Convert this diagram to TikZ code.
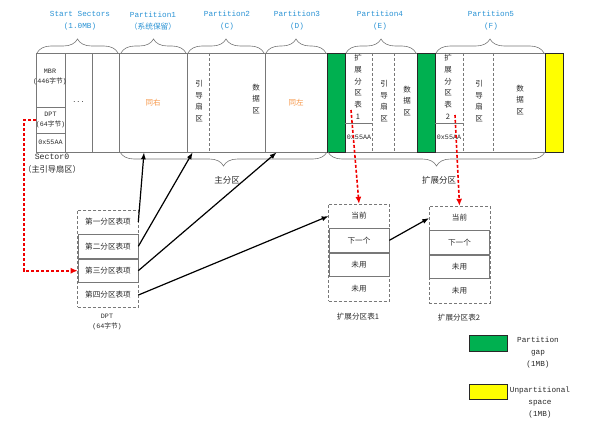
\documentclass[tikz,border=0pt]{standalone}
\usepackage{fontspec}
\setmainfont{Liberation Mono}
\newfontfamily\zh{Noto Sans CJK SC}
\usetikzlibrary{arrows.meta,positioning,calc,fit,decorations.pathreplacing}
\definecolor{ink}{RGB}{40,40,40}
\definecolor{rim}{RGB}{120,120,120}
\definecolor{sky}{RGB}{41,146,212}
\definecolor{amber}{RGB}{247,150,70}
\definecolor{gapgreen}{RGB}{0,176,80}
\definecolor{freeyellow}{RGB}{255,255,0}
\definecolor{hot}{RGB}{240,0,0}
\tikzset{
  every picture/.style={x=1pt, y=-1pt, color=ink, line width=0.6pt, font=\fontsize{7.7}{12}\selectfont},
  seg/.style={draw=rim, fill=white, inner sep=0pt},
  gap/.style={seg, draw=ink, fill=gapgreen},
  free/.style={seg, draw=ink, fill=freeyellow},
  divline/.style={draw=rim, dash pattern=on 3pt off 2pt},
  small/.style={font=\fontsize{6.7}{10}\selectfont, text=ink, inner sep=0pt, align=center},
  vtxt/.style={font=\zh\fontsize{7.5}{11.7}\selectfont, text=ink, inner sep=0pt, align=center},
  same/.style={font=\zh\fontsize{7.5}{9}\selectfont, text=amber, inner sep=0pt},
  title/.style={text=sky, inner sep=0pt, align=center},
  cell/.style={font=\zh\fontsize{7.6}{9}\selectfont, text=ink, minimum width=60pt, minimum height=23.75pt, inner sep=0pt},
  solidcell/.style={cell, draw=rim},
  tablebox/.style={draw=rim, dash pattern=on 3pt off 2pt, inner sep=0pt},
  lbl/.style={inner sep=0pt, align=center},
  topbrace/.style={decorate, decoration={brace, amplitude=14pt}, draw=rim},
  ptr/.style={-{Latex[length=7pt,width=5pt]}, line width=1.2pt, black},
  link/.style={-{Latex[length=7pt,width=6pt]}, line width=1.6pt, hot, dash pattern=on 3pt off 2pt},
}

\begin{document}
\begin{tikzpicture}
  \useasboundingbox (0,0) rectangle (593,425);
  % disk bar
  \foreach \n/\l/\r in {dots/65/92, spare/92/119, p1/119/187, p2/187/265, p3/265/327, p4/345/417, p5/435/545}
    \node[seg, fit={(\l,53) (\r,152)}] (\n) {};
  \foreach \n/\t/\b in {mbr/53/107, dpt/107/133, magic/133/152}
    \node[seg, fit={(36,\t) (65,\b)}] (\n) {};
  \node[gap, fit={(327,53) (345,152)}] (g1) {};
  \node[gap, fit={(417,53) (435,152)}] (g2) {};
  \node[free, fit={(545,53) (563,152)}] (rest) {};
  \foreach \x in {209,372,394,463,493} \draw[divline] (\x,53) -- (\x,152);
  \draw[rim] (345,123) -- (372,123);
  \draw[rim] (435,123) -- (463,123);

  % texts in the bar
  \node[small] (mbrT) at (50,77) {MBR\\(446{\zh 字节})};
  \node[small] (dptT) at (dpt) {DPT\\(64{\zh 字节})};
  \node[small] (magicT) at (magic) {0x55AA};
  \node[small] (dotsT) at (dots) {...};
  \node[same] (p1T) at (p1) {同右};
  \node[same] (p3T) at (p3) {同左};
  \node[vtxt] (p2boot) at (199,101) {引\\导\\扇\\区};
  \node[vtxt] (p2data) at (256,99) {数\\据\\区};
  \node[vtxt] (p4ebr) at (358,87) {扩\\展\\分\\区\\表\\1};
  \node[vtxt] (p4boot) at (384,101) {引\\导\\扇\\区};
  \node[vtxt] (p4data) at (407,101) {数\\据\\区};
  \node[small] (p4magic) at (359,137) {0x55AA};
  \node[vtxt] (p5ebr) at (448,87) {扩\\展\\分\\区\\表\\2};
  \node[vtxt] (p5boot) at (479,101) {引\\导\\扇\\区};
  \node[vtxt] (p5data) at (520,100) {数\\据\\区};
  \node[small] (p5magic) at (449,137) {0x55AA};

  % braces and titles
  \foreach \l/\r in {37/118, 121/186, 188/264, 266/326, 346/416, 436/544}
    \draw[topbrace] (\l,53) -- (\r,53);
  \node[title] (t0) at (80,21) {Start Sectors\\(1.0MB)};
  \node[title] (t1) at (153,21) {Partition1\\{\zh （系统保留）}};
  \node[title] (t2) at (227,21) {Partition2\\(C)};
  \node[title] (t3) at (297,21) {Partition3\\(D)};
  \node[title] (t4) at (380,21) {Partition4\\(E)};
  \node[title] (t5) at (491,21) {Partition5\\(F)};
  \draw[topbrace] (327,152) -- (120,152);
  \draw[topbrace] (545,152) -- (328,152);
  \node[lbl, font=\zh\fontsize{8.5}{10}\selectfont] (mainlbl) at (227,180) {主分区};
  \node[lbl, font=\zh\fontsize{8.5}{10}\selectfont] (extlbl) at (439,180) {扩展分区};
  \node[lbl, font=\fontsize{8.2}{13}\selectfont] (sec0) at (52,164) {Sector0\\{\zh （主引导扇区）}};

  % partition table
  \node[cell] (d1) at (108,222) {第一分区表项};
  \node[solidcell, below=0pt of d1] (d2) {第二分区表项};
  \node[solidcell, below=0pt of d2] (d3) {第三分区表项};
  \node[cell, below=0pt of d3] (d4) {第四分区表项};
  \node[tablebox, fit=(d1)(d4)] (dptbox) {};
  \node[small] (dptlbl) at (107,322) {DPT\\(64{\zh 字节})};

  % extended tables
  \node[cell] (e1a) at (359,216) {当前};
  \node[solidcell, below=0pt of e1a] (e1b) {下一个};
  \node[solidcell, below=0pt of e1b] (e1c) {未用};
  \node[cell, below=0pt of e1c] (e1d) {未用};
  \node[tablebox, fit=(e1a)(e1d)] (e1box) {};
  \node[cell] (e2a) at (459.5,218) {当前};
  \node[solidcell, below=0pt of e2a] (e2b) {下一个};
  \node[solidcell, below=0pt of e2b] (e2c) {未用};
  \node[cell, below=0pt of e2c] (e2d) {未用};
  \node[tablebox, fit=(e2a)(e2d)] (e2box) {};
  \node[lbl, font=\zh\fontsize{7.6}{9}\selectfont] (e1lbl) at (358,317) {扩展分区表1};
  \node[lbl, font=\zh\fontsize{7.6}{9}\selectfont] (e2lbl) at (459,318) {扩展分区表2};

  % pointers
  \draw[ptr] (d1.east) -- ([xshift=-9pt]p1.south);
  \draw[ptr] (d2.east) -- ([xshift=6pt]p2.south west);
  \draw[ptr] (d3.east) -- ([xshift=12pt]p3.south west);
  \draw[ptr] (d4.east) -- (e1a.west);
  \draw[ptr] (e1b.east) -- (e2a.west);
  \coordinate (x4) at (351,110);
  \coordinate (x5) at (455,115);
  \draw[link] (dpt.west) -- ++(-12,0) |- (d3.west);
  \draw[link] (x4) -- (e1a.north);
  \draw[link] (x5) -- (e2a.north);

  % legend
  \node[gap, minimum width=38pt, minimum height=16pt] (keygap) at (488,343) {};
  \node[lbl] (keygapT) at (538,353) {Partition\\gap\\(1MB)};
  \node[free, minimum width=38pt, minimum height=15pt] (keyfree) at (488,391.5) {};
  \node[lbl] (keyfreeT) at (540,403) {Unpartitional\\space\\(1MB)};
\end{tikzpicture}
\end{document}
